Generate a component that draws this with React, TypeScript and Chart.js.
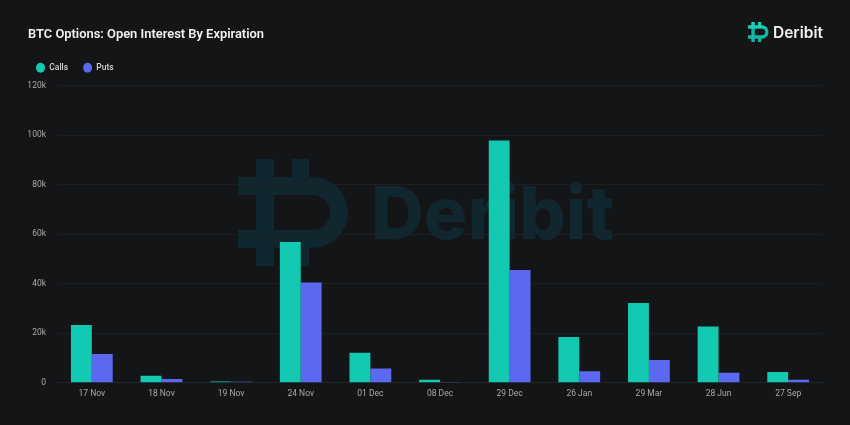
import { useEffect, useRef } from "react";
import { Chart, registerables } from "chart.js";

Chart.register(...registerables);

const expirations = ["17 Nov", "18 Nov", "19 Nov", "24 Nov", "01 Dec", "08 Dec", "29 Dec", "26 Jan", "29 Mar", "28 Jun", "27 Sep"];
const calls = [23300, 2800, 500, 56800, 12100, 1200, 97800, 18500, 32200, 22700, 4400];
const puts = [11600, 1500, 400, 40500, 5800, 100, 45500, 4700, 9200, 4100, 1200];

const FONT = "Roboto, sans-serif";

// deribit mark, 110 x 107 units
function drawMark(ctx: CanvasRenderingContext2D, x: number, y: number, s: number, fill: string | CanvasGradient) {
  ctx.save();
  ctx.translate(x, y);
  ctx.scale(s, s);
  ctx.fillStyle = fill;
  const p = new Path2D();
  p.rect(18, 0, 18, 107);
  p.rect(54, 0, 17, 20);
  p.rect(54, 87, 17, 20);
  p.moveTo(0, 18);
  p.lineTo(74.5, 18);
  p.arc(74.5, 53.5, 35.5, -Math.PI / 2, Math.PI / 2);
  p.lineTo(0, 89);
  p.lineTo(0, 71);
  p.lineTo(74.5, 71);
  p.arc(74.5, 53.5, 17.5, Math.PI / 2, -Math.PI / 2, true);
  p.lineTo(0, 36);
  p.closePath();
  ctx.fill(p);
  ctx.restore();
}

const brandPlugin = {
  id: "brand",
  afterLayout(chart: any) {
    // nudge the legend, its item spacing and left inset share one option
    chart.legend.left -= 7;
    chart.legend.top -= 3.5;
    chart.legend.bottom -= 3.5;
  },
  beforeDraw(chart: Chart) {
    const ctx = chart.ctx;
    ctx.save();
    ctx.fillStyle = "#131517";
    ctx.fillRect(0, 0, chart.width, chart.height);
    // watermark
    drawMark(ctx, 238, 159, 1, "#10272f");
    ctx.fillStyle = "#10272f";
    ctx.font = `800 73px Inter, ${FONT}`;
    ctx.textBaseline = "alphabetic";
    ctx.fillText("Deribit", 371, 239);
    // corner logo
    const g = ctx.createLinearGradient(0, 22, 0, 42);
    g.addColorStop(0, "#1cd6bb");
    g.addColorStop(1, "#13b8a6");
    drawMark(ctx, 748, 22, 0.187, g);
    ctx.fillStyle = "#f2f2f2";
    ctx.font = `600 15.5px Inter, ${FONT}`;
    ctx.fillText("Deribit", 773, 38);
    ctx.restore();
  },
};

export default function App() {
  const canvasRef = useRef<HTMLCanvasElement>(null);

  useEffect(() => {
    if (!canvasRef.current) return;
    document.body.style.margin = "0";
    const chart = new Chart(canvasRef.current, {
      type: "bar",
      data: {
        labels: expirations,
        datasets: [
          { label: "Calls", data: calls, backgroundColor: "#14c9b1" },
          { label: "Puts", data: puts, backgroundColor: "#5b68f0" },
        ],
      },
      options: {
        responsive: false,
        animation: false,
        layout: { padding: { left: 28, right: 27, top: 27, bottom: 20 } },
        datasets: { bar: { categoryPercentage: 0.6, barPercentage: 1 } },
        plugins: {
          title: {
            display: true,
            text: "BTC Options: Open Interest By Expiration",
            align: "start",
            color: "#f2f2f2",
            font: { family: FONT, size: 12.9, weight: "600" },
            padding: { top: 0, bottom: 9.5 },
          },
          legend: {
            position: "top",
            align: "start",
            labels: {
              usePointStyle: true,
              pointStyle: "circle",
              boxHeight: 7,
              pointStyleWidth: 9,
              color: "#d4d4d4",
              font: { family: FONT, size: 8.5, weight: "500" },
              padding: 15,
            },
          },
          tooltip: { enabled: false },
        },
        scales: {
          x: {
            grid: { display: false, drawTicks: false },
            border: { color: "#22252a" },
            ticks: { color: "#a8a8a8", font: { family: FONT, size: 8.5 }, maxRotation: 0, padding: 6 },
          },
          y: {
            min: 0,
            max: 120000,
            afterFit: (axis: any) => {
              axis.width = 29;
            },
            grid: { color: "#1c1f23", tickLength: 11, tickColor: "transparent" },
            border: { display: false },
            ticks: {
              stepSize: 20000,
              color: "#a8a8a8",
              font: { family: FONT, size: 8.5 },
              padding: 0,
              callback: (v: any) => (v === 0 ? "0" : `${v / 1000}k`),
            },
          },
        },
      },
      plugins: [brandPlugin],
    });
    return () => chart.destroy();
  }, []);

  return <canvas ref={canvasRef} width={850} height={425} style={{ display: "block" }} />;
}
